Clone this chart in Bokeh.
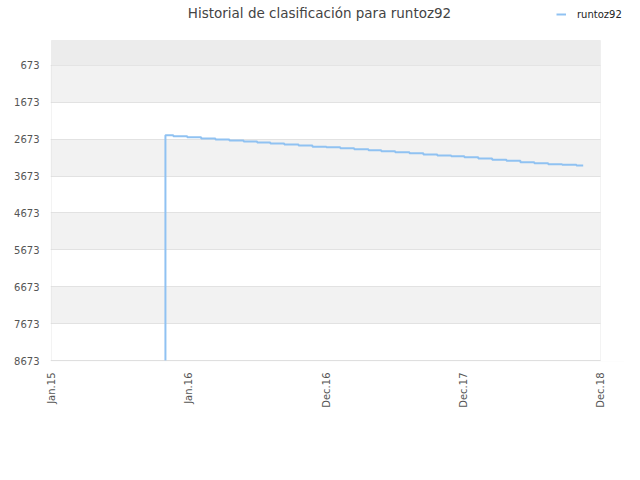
import pandas as pd
from bokeh.plotting import figure
from bokeh.models import (Range1d, FixedTicker, DatetimeTickFormatter, BoxAnnotation,
                          Legend, LegendItem, ColumnDataSource, Label)
from bokeh.embed import file_html
from bokeh.resources import INLINE

# ---- data ----
title_text = "Historial de clasificación para runtoz92"
player = "runtoz92"
dates = ["2015-10-31", "2015-10-31", "2015-11-21", "2015-12-28", "2016-02-03", "2016-03-12",
         "2016-04-18", "2016-05-26", "2016-07-01", "2016-08-05", "2016-09-11", "2016-10-19",
         "2016-11-25", "2017-01-01", "2017-02-07", "2017-03-16", "2017-04-23", "2017-05-27",
         "2017-07-03", "2017-08-10", "2017-09-16", "2017-10-23", "2017-11-29", "2018-01-03",
         "2018-02-09", "2018-03-18", "2018-04-25", "2018-06-01", "2018-07-08", "2018-08-14",
         "2018-09-20", "2018-10-28", "2018-11-15"]
ranks = [8673, 2567, 2594, 2621, 2656, 2683,
         2710, 2737, 2765, 2792, 2819, 2846,
         2878, 2896, 2919, 2946, 2973, 3000,
         3027, 3055, 3090, 3117, 3136, 3163,
         3198, 3233, 3261, 3298, 3326, 3353,
         3369, 3388, 3388]
y_ticks = [673, 1673, 2673, 3673, 4673, 5673, 6673, 7673, 8673]
x_tick_dates = ["2015-01-01", "2016-01-01", "2016-12-31", "2017-12-31", "2018-12-31"]
x_start, x_end = "2015-01-01", "2018-12-31"
y_top, y_bottom = 0, 8673

# ---- layout (pixels) ----
plot_w, plot_h = 549, 320          # visible plot area
pad_l, pad_r, pad_t, pad_b = 1, 24, 40, 1   # frame extends beyond plot area (headroom for title/legend)
border_l, border_b = 50, 103
fig_w, fig_h = 624, 464

xs_ms = pd.Timestamp(x_start).value / 1e6
xe_ms = pd.Timestamp(x_end).value / 1e6
ms_px = (xe_ms - xs_ms) / plot_w
u_px = (y_bottom - y_top) / plot_h

src = ColumnDataSource(dict(x=pd.to_datetime(dates), y=ranks))

p = figure(width=fig_w, height=fig_h, output_backend="svg", toolbar_location=None,
           x_axis_type="datetime",
           x_range=Range1d(xs_ms - pad_l * ms_px, xe_ms + pad_r * ms_px),
           y_range=Range1d(y_bottom + pad_b * u_px, y_top - pad_t * u_px),
           min_border_left=border_l, min_border_right=0, min_border_top=0,
           min_border_bottom=border_b)

p.background_fill_color = "white"
p.border_fill_color = "white"
p.outline_line_color = None

# top band above first tick
p.add_layout(BoxAnnotation(top=y_top, bottom=y_ticks[0], left=xs_ms, right=xe_ms,
                           fill_color="#ececec", fill_alpha=1, line_color=None, level="underlay"))

r = p.step(x="x", y="y", source=src, mode="after", line_color="#90c2f2", line_width=2)

# blank out grid/bands right of the plot area
p.add_layout(BoxAnnotation(left=xe_ms, fill_color="white", fill_alpha=1, line_color=None))
# plot-area outline
p.add_layout(BoxAnnotation(top=y_top, bottom=y_bottom, left=xs_ms, right=xe_ms, fill_alpha=0,
                           line_color="#d8d8d8", line_width=1))

# axes
p.yaxis.ticker = FixedTicker(ticks=y_ticks)
p.xaxis.ticker = FixedTicker(ticks=[pd.Timestamp(d).value / 1e6 for d in x_tick_dates])
fmt = "%b.%y"
p.xaxis.formatter = DatetimeTickFormatter(milliseconds=fmt, seconds=fmt, minsec=fmt, minutes=fmt,
                                          hourmin=fmt, hours=fmt, days=fmt, months=fmt, years=fmt)
p.xaxis.major_label_orientation = 3.14159265 / 2
for ax in (p.xaxis[0], p.yaxis[0]):
    ax.major_tick_line_color = None
    ax.minor_tick_line_color = None
    ax.major_tick_out = 0
    ax.major_tick_in = 0
    ax.minor_tick_out = 0
    ax.axis_line_color = None
    ax.major_label_text_font = "DejaVu Sans"
    ax.major_label_text_font_size = "10px"
    ax.major_label_text_color = "#555555"
    ax.major_label_standoff = 11

p.xgrid.grid_line_color = None
p.ygrid.grid_line_color = "#e2e2e2"
p.ygrid.band_fill_color = "#f2f2f2"
p.ygrid.band_fill_alpha = 1

# title (screen px from frame's bottom-left)
p.add_layout(Label(x=269, y=349, x_units="screen", y_units="screen", text=title_text,
                   text_align="center", text_baseline="middle", text_font="DejaVu Sans",
                   text_font_size="13.5px", text_color="#444444"))

legend = Legend(items=[LegendItem(label=player, renderers=[r])], location=(506, 339),
                glyph_width=10, glyph_height=16, label_height=16, label_standoff=11,
                padding=0, margin=0, spacing=0, border_line_color=None,
                background_fill_alpha=0, label_text_font="DejaVu Sans",
                label_text_font_size="10px", label_text_color="#222222")
p.add_layout(legend)

open("out.html", "w").write(file_html(p, INLINE))
